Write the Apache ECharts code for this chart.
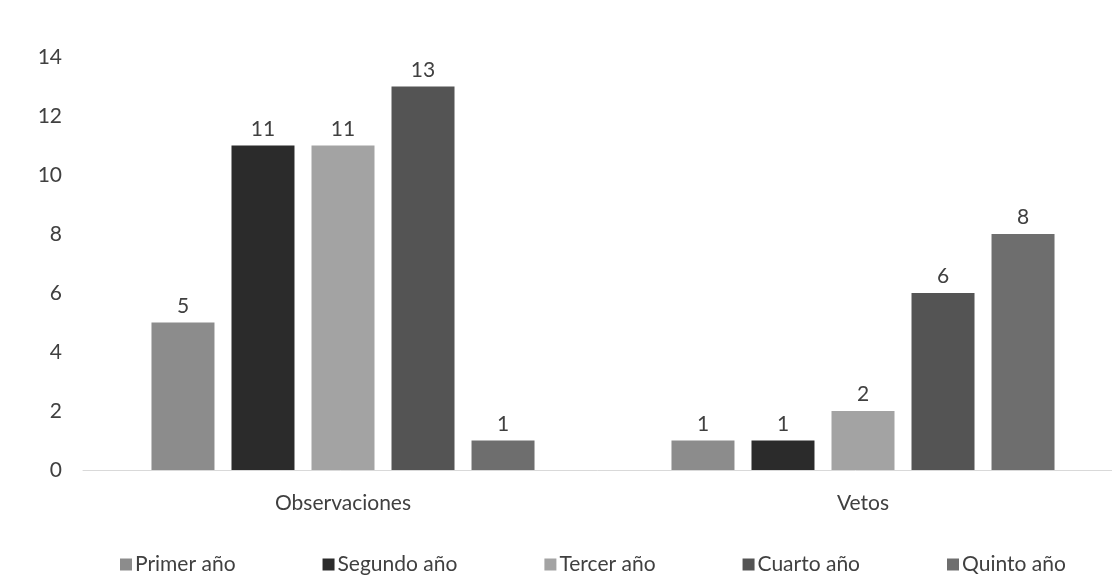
<!DOCTYPE html>
<html><head><meta charset="utf-8">
<script src="https://cdn.jsdelivr.net/npm/echarts@6/dist/echarts.min.js"></script>
<style>html,body{margin:0;padding:0;background:#fff}#c{width:1112px;height:583px}</style>
</head><body><div id="c"></div>
<script>
const categories = ['Observaciones', 'Vetos'];
const seriesNames = ['Primer año', 'Segundo año', 'Tercer año', 'Cuarto año', 'Quinto año'];
const primer = [5, 1];
const segundo = [11, 1];
const tercer = [11, 2];
const cuarto = [13, 6];
const quinto = [1, 8];
const yTicks = [0, 2, 4, 6, 8, 10, 12, 14];

const values = [primer, segundo, tercer, cuarto, quinto];
const colors = ['#8c8c8c', '#2b2b2b', '#a3a3a3', '#545454', '#6e6e6e'];
const font = 'Lato, "Open Sans", sans-serif';

const chart = echarts.init(document.getElementById('c'));
chart.setOption({
  animation: false,
  textStyle: { fontFamily: font },
  grid: { left: 83, width: 1040, top: 57, bottom: 113, outerBoundsMode: 'none', containLabel: false },
  legend: {
    bottom: 3, left: 115,
    itemWidth: 12, itemHeight: 12, itemGap: 87,
    icon: 'rect',
    textStyle: { fontSize: 21, color: '#404040', fontFamily: font, padding: [0, 0, 0, -2] },
    data: seriesNames
  },
  xAxis: {
    type: 'category', data: categories,
    axisLine: { lineStyle: { color: '#d9d9d9', width: 1 } },
    axisTick: { show: false },
    axisLabel: { fontSize: 21, color: '#404040', margin: 23 }
  },
  yAxis: {
    type: 'value', min: yTicks[0], max: yTicks[yTicks.length - 1], interval: 2,
    axisLine: { show: false }, axisTick: { show: false },
    splitLine: { show: false },
    axisLabel: { fontSize: 21, color: '#404040', margin: 21 }
  },
  series: seriesNames.map((n, i) => ({
    name: n, type: 'bar', data: values[i],
    barWidth: 63, barGap: '27%',
    itemStyle: { color: colors[i] },
    label: { show: true, position: 'top', distance: 6, fontSize: 21, color: '#404040' }
  }))
});
</script></body></html>
